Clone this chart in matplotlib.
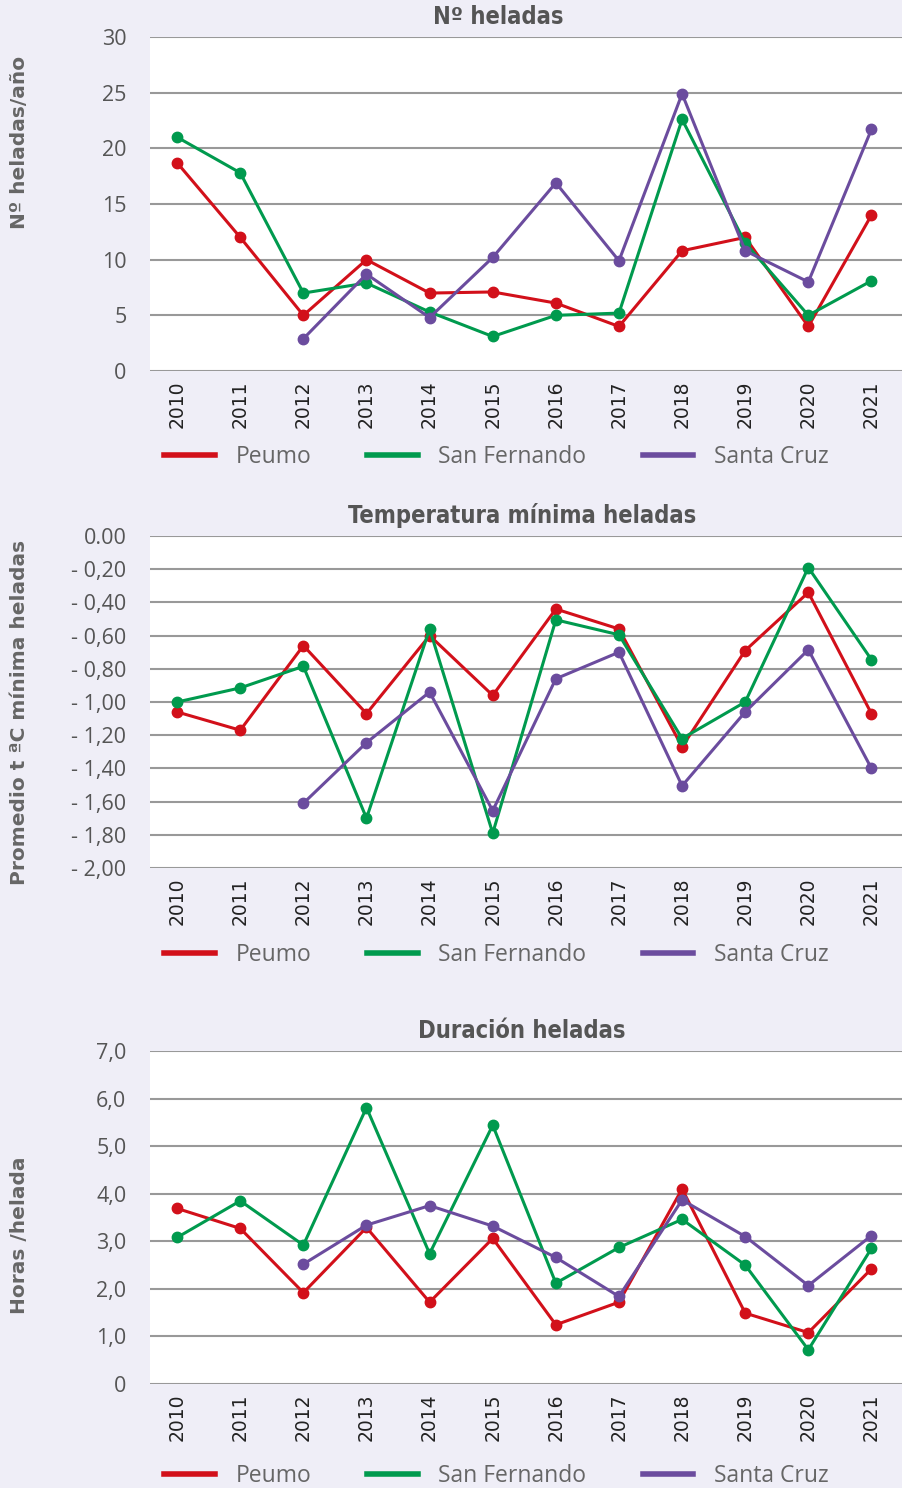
import numpy as np
import matplotlib
matplotlib.use("Agg")
import matplotlib.pyplot as plt
from matplotlib.lines import Line2D

years = ["2010", "2011", "2012", "2013", "2014", "2015", "2016", "2017", "2018", "2019", "2020", "2021"]
series_names = ["Peumo", "San Fernando", "Santa Cruz"]

# Nº heladas
heladas_peumo = [18.7, 12.0, 5.0, 10.0, 7.0, 7.1, 6.1, 4.0, 10.8, 12.0, 4.0, 14.0]
heladas_sanfer = [21.0, 17.8, 7.0, 7.9, 5.3, 3.1, 5.0, 5.2, 22.6, 11.5, 5.0, 8.1]
heladas_stacruz = [np.nan, np.nan, 2.9, 8.7, 4.8, 10.2, 16.9, 9.9, 24.9, 10.8, 8.0, 21.7]

# Temperatura mínima heladas
tmin_peumo = [-1.06, -1.17, -0.66, -1.07, -0.60, -0.96, -0.44, -0.56, -1.27, -0.69, -0.34, -1.07]
tmin_sanfer = [-1.00, -0.915, -0.785, -1.70, -0.56, -1.79, -0.505, -0.595, -1.22, -1.00, -0.19, -0.745]
tmin_stacruz = [np.nan, np.nan, -1.61, -1.245, -0.94, -1.655, -0.86, -0.70, -1.505, -1.06, -0.685, -1.40]

# Duración heladas
dur_peumo = [3.69, 3.27, 1.92, 3.29, 1.72, 3.06, 1.245, 1.72, 4.10, 1.49, 1.08, 2.42]
dur_sanfer = [3.08, 3.85, 2.92, 5.81, 2.74, 5.44, 2.12, 2.87, 3.46, 2.50, 0.72, 2.85]
dur_stacruz = [np.nan, np.nan, 2.52, 3.34, 3.75, 3.32, 2.66, 1.84, 3.87, 3.10, 2.07, 3.12]

colors = ["#d2101a", "#009a4e", "#6b4c9e"]
BG = "#efeef7"

fig = plt.figure(figsize=(9.03, 14.88), dpi=100, facecolor=BG)

panels = [
    dict(rect=(150/903, 1-371/1488, 753/903, 334/1488), data=(heladas_peumo, heladas_sanfer, heladas_stacruz),
         ylim=(0, 30), ticks=[0, 5, 10, 15, 20, 25, 30],
         labels=["0", "5", "10", "15", "20", "25", "30"],
         title="Nº heladas", ylabel="Nº heladas/año", tx=0.462, ly=142, legy=-0.258),
    dict(rect=(150/903, 1-868/1488, 753/903, 332/1488), data=(tmin_peumo, tmin_sanfer, tmin_stacruz),
         ylim=(-2.0, 0.0), ticks=[-2.0, -1.8, -1.6, -1.4, -1.2, -1.0, -0.8, -0.6, -0.4, -0.2, 0.0],
         labels=["- 2,00", "- 1,80", "- 1,60", "- 1,40", "- 1,20", "- 1,00", "- 0,80", "- 0,60", "- 0,40", "- 0,20", "0.00"],
         title="Temperatura mínima heladas", ylabel="Promedio t ªC mínima heladas", tx=0.494, ly=712, legy=-0.262),
    dict(rect=(150/903, 1-1384/1488, 753/903, 333/1488), data=(dur_peumo, dur_sanfer, dur_stacruz),
         ylim=(0, 7.0), ticks=[0, 1, 2, 3, 4, 5, 6, 7],
         labels=["0", "1,0", "2,0", "3,0", "4,0", "5,0", "6,0", "7,0"],
         title="Duración heladas", ylabel="Horas /helada", tx=0.494, ly=1235, legy=-0.275),
]

x = np.arange(len(years))
for p in panels:
    ax = fig.add_axes(p["rect"])
    ax.set_facecolor("white")
    for vals, c, name in zip(p["data"], colors, series_names):
        ax.plot(x, vals, color=c, lw=2.2, marker="o", ms=7.5, label=name, zorder=3, clip_on=False)
    ax.set_xlim(-0.43, 11.5)
    ax.set_ylim(*p["ylim"])
    ax.set_yticks(p["ticks"])
    ax.set_yticklabels(p["labels"], fontsize=15.5, color="#555555", family="Open Sans")
    ax.set_xticks(x)
    ax.set_xticklabels(years, rotation=90, fontsize=13.5, color="#222222", family="DejaVu Sans")
    ax.tick_params(axis="both", length=0)
    ax.tick_params(axis="y", pad=17)
    ax.tick_params(axis="x", pad=7)
    for s in ax.spines.values():
        s.set_visible(False)
    ax.yaxis.grid(True, color="#999999", lw=1.5, zorder=1)
    ax.set_axisbelow(True)
    ax.set_title(p["title"], fontsize=17, fontweight="bold", color="#555555", family="DejaVu Sans",
                 fontstretch="condensed", pad=9, x=p["tx"])
    fig.text(20/903, 1 - p["ly"]/1488, p["ylabel"], rotation=90, ha="center", va="center",
             fontsize=14.5, fontweight="bold", color="#666666", family="DejaVu Sans")
    handles = [Line2D([0], [0], color=c, lw=4) for c in colors]
    leg = ax.legend(handles, series_names, loc="center", bbox_to_anchor=(0.46, p["legy"]), ncol=3,
                    frameon=False, handlelength=2.2, handletextpad=0.9, columnspacing=2.45,
                    prop=dict(family="Open Sans", size=16.5))
    for t in leg.get_texts():
        t.set_color("#666666")

fig.savefig("out.png", dpi=100, facecolor=BG)
